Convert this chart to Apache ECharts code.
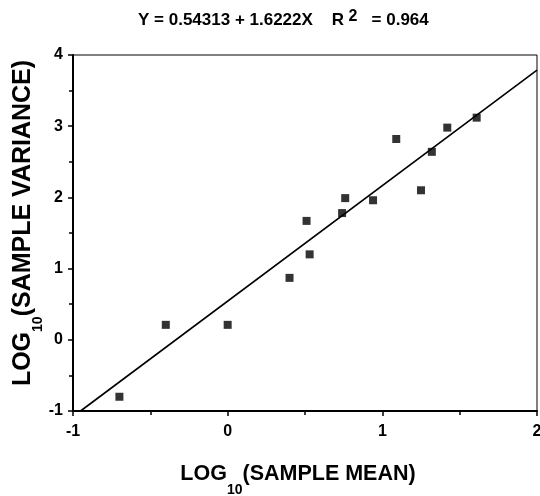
<!DOCTYPE html>
<html>
<head>
<meta charset="utf-8">
<script src="https://cdn.jsdelivr.net/npm/echarts@6/dist/echarts.min.js"></script>
<style>
html,body{margin:0;padding:0;background:#fff;}
#chart{width:540px;height:496px;}
</style>
</head>
<body>
<div id="chart"></div>
<script>
// Data
const logMean = [-0.70, -0.40, 0.00, 0.40, 0.51, 0.53, 0.74, 0.76, 0.94, 1.09, 1.25, 1.32, 1.42, 1.61];
const logVariance = [-0.80, 0.21, 0.21, 0.87, 1.67, 1.20, 1.78, 1.99, 1.96, 2.82, 2.10, 2.64, 2.98, 3.12];
const intercept = 0.54313;
const slope = 1.6222;
const rSquared = 0.964;
const xRange = [-1, 2];
const yRange = [-1, 4];

const points = logMean.map((x, i) => [x, logVariance[i]]);
// Regression line, clipped to the plot box
const xStart = Math.max(xRange[0], (yRange[0] - intercept) / slope);
const xEnd = Math.min(xRange[1], (yRange[1] - intercept) / slope);
const fitLine = [[xStart, intercept + slope * xStart], [xEnd, intercept + slope * xEnd]];

const FONT = '"Liberation Sans", Arial, Helvetica, sans-serif';

function nameRich(size, subSize, drop, lead, trail) {
  const base = {fontFamily: FONT, fontWeight: 'bold', fontSize: size, color: '#000', lineHeight: size + 2, verticalAlign: 'top'};
  return {
    a: Object.assign({}, base, {padding: [0, 0, 0, lead]}),
    b: Object.assign({}, base, {padding: [0, trail, 0, 0]}),
    s: {fontFamily: FONT, fontWeight: 'bold', fontSize: subSize, color: '#000', lineHeight: subSize + 2,
        padding: [drop, 0, 0, 0], verticalAlign: 'top'}
  };
}

const chart = echarts.init(document.getElementById('chart'), null, {renderer: 'canvas'});
chart.setOption({
  animation: false,
  backgroundColor: '#fff',
  title: {
    text: '{a|Y = 0.54313 + 1.6222X    R}{sup| 2}{a|   = ' + rSquared + '}',
    left: 133,
    top: 4,
    textStyle: {
      rich: {
        a: {fontFamily: FONT, fontWeight: 'bold', fontSize: 17, color: '#000', lineHeight: 20, padding: [6, 0, 0, 0], verticalAlign: 'bottom'},
        sup: {fontFamily: FONT, fontWeight: 'bold', fontSize: 16, color: '#000', lineHeight: 16, verticalAlign: 'top'}
      }
    }
  },
  grid: {left: 73, right: 3, top: 55, bottom: 85, outerBoundsMode: 'none', containLabel: false,
         show: true, borderColor: '#000', borderWidth: 1, backgroundColor: 'transparent'},
  xAxis: {
    type: 'value', min: xRange[0], max: xRange[1], interval: 1,
    axisLine: {show: true, onZero: false, lineStyle: {color: '#000', width: 2}},
    axisTick: {show: true, inside: false, length: 5, lineStyle: {color: '#000', width: 1.5}},
    minorTick: {show: true, splitNumber: 2, length: 4, lineStyle: {color: '#000', width: 1.5}},
    splitLine: {show: false},
    axisLabel: {color: '#000', fontFamily: FONT, fontWeight: 'bold', fontSize: 16, margin: 13},
    name: '{a|LOG}{s|10}{b|(SAMPLE MEAN)}',
    nameLocation: 'middle',
    nameGap: 52,
    nameMoveOverlap: false,
    nameTextStyle: {rich: nameRich(21.5, 14, 20, 0, 14)}
  },
  yAxis: {
    type: 'value', min: yRange[0], max: yRange[1], interval: 1,
    axisLine: {show: true, onZero: false, lineStyle: {color: '#000', width: 2}},
    axisTick: {show: true, inside: false, length: 5, lineStyle: {color: '#000', width: 1.5}},
    minorTick: {show: true, splitNumber: 2, length: 4, lineStyle: {color: '#000', width: 1.5}},
    splitLine: {show: false},
    axisLabel: {color: '#000', fontFamily: FONT, fontWeight: 'bold', fontSize: 16, margin: 10},
    name: '{a|LOG}{s|10}{b|(SAMPLE VARIANCE)}',
    nameLocation: 'middle',
    nameRotate: 90,
    nameGap: 35,
    nameMoveOverlap: false,
    nameTextStyle: {rich: nameRich(25, 14, 20, 20, 0)}
  },
  series: [
    {
      type: 'line',
      data: fitLine,
      symbol: 'none',
      lineStyle: {color: '#000', width: 1.6},
      silent: true,
      z: 2
    },
    {
      type: 'scatter',
      data: points,
      symbol: 'rect',
      symbolSize: 8,
      itemStyle: {color: '#000'},
      z: 3
    }
  ]
});
</script>
</body>
</html>
